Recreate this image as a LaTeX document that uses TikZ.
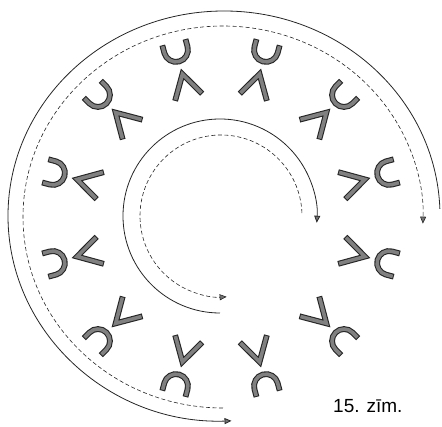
\documentclass[tikz,border=0pt]{standalone}
\usepackage{fontspec}
\setmainfont{Liberation Sans}
\usetikzlibrary{arrows.meta}

\begin{document}
\begin{tikzpicture}[
    x=1pt, y=1pt,
    edge/.style={line width=5.8pt, draw=black!85, shorten <=0pt, shorten >=0pt},
    core/.style={line width=3.6pt, draw=black!50, shorten <=1pt, shorten >=1pt},
    track/.style={line width=0.8pt, draw=black!85},
    dashtrack/.style={track, line width=0.6pt, dash pattern=on 4pt off 2.5pt},
    tip/.style={-{Triangle[length=7pt, width=6pt, fill=black!55]}},
    ushape/.pic={
        \draw[core, preaction={edge}] (10,12) -- (2,12)
            arc[start angle=90, end angle=270, radius=12] -- (10,-12);
    },
    vshape/.pic={
        \draw[core, line join=miter, preaction={edge, line join=miter}]
            (-12,14) -- (12,0) -- (-12,-14);
    },
]

\useasboundingbox (-221,-209) rectangle (221,218);

% ── Ring of magnets ──────────────────────────────────────────
\foreach \ang in {15,45,...,345} {
    \pic[rotate=\ang] (u\ang) at (\ang:172) {ushape};
    \pic[rotate=\ang] (v\ang) at (\ang:137) {vshape};
}

% ── Outer tracks ─────────────────────────────────────────────
\draw[track, tip, shift={(3,2)}] (2:216 and 205)
    arc[start angle=2, end angle=272, x radius=216, y radius=205];
\draw[dashtrack, tip, shift={(2,1)}] (270:200 and 191)
    arc[start angle=270, end angle=-2, x radius=200, y radius=191];

% ── Inner tracks ─────────────────────────────────────────────
\draw[track, tip, shift={(-1,2)}] (270:97)
    arc[start angle=270, end angle=-4, radius=97];
\draw[dashtrack, tip, shift={(0,2)}] (2:81)
    arc[start angle=2, end angle=274, radius=81];

% ── Caption ──────────────────────────────────────────────────
\node[font=\fontsize{19}{23}\selectfont, anchor=base west, inner sep=0pt]
    (caption) at (112,-195) {15. zīm.};

\end{tikzpicture}
\end{document}
